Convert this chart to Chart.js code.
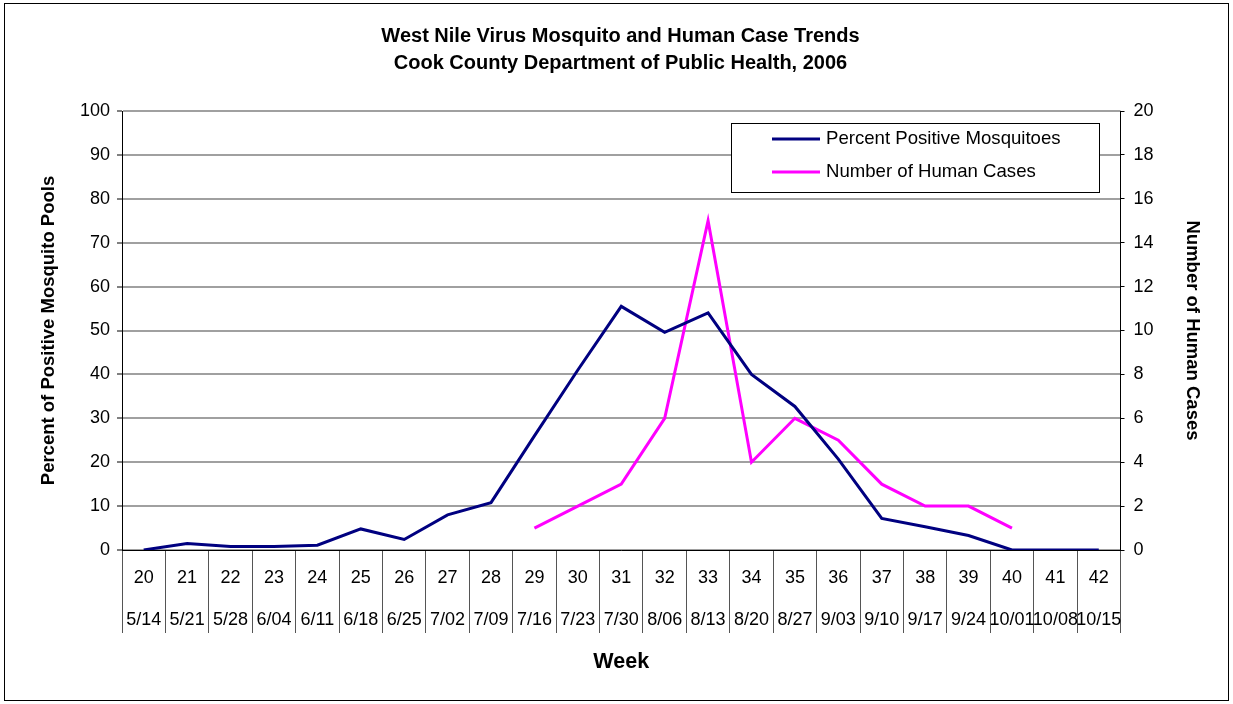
<!DOCTYPE html>
<html>
<head>
<meta charset="utf-8">
<script src="https://cdn.jsdelivr.net/npm/chart.js@4"></script>
<style>
    html, body { margin: 0; padding: 0; background: #fff; }
    canvas { display: block; }
</style>
</head>
<body>
<canvas id="wnvChart" width="1233" height="704"></canvas>
<script>
const weeks = ['20', '21', '22', '23', '24', '25', '26', '27', '28', '29', '30', '31',
    '32', '33', '34', '35', '36', '37', '38', '39', '40', '41', '42'];
const weekDates = ['5/14', '5/21', '5/28', '6/04', '6/11', '6/18', '6/25', '7/02', '7/09',
    '7/16', '7/23', '7/30', '8/06', '8/13', '8/20', '8/27', '9/03', '9/10', '9/17', '9/24',
    '10/01', '10/08', '10/15'];
const percentPositive = [0, 1.5, 0.8, 0.8, 1.1, 4.8, 2.4, 8.0, 10.8, 26, 41, 55.5,
    49.6, 54, 40, 32.7, 20.7, 7.2, 5.3, 3.3, 0, 0, 0];
const humanCases = [null, null, null, null, null, null, null, null, null, 1, 2, 3,
    6, 15, 4, 6, 5, 3, 2, 2, 1, null, null];
const leftTicks = [0, 100, 10];
const rightTicks = [0, 20, 2];

const FONT = '"Liberation Sans", Arial, sans-serif';

// white background + outer frame
const framePlugin = {
    id: 'frame',
    beforeDraw(chart) {
        const c = chart.ctx;
        c.save();
        c.fillStyle = '#fff';
        c.fillRect(0, 0, chart.width, chart.height);
        c.strokeStyle = '#000';
        c.lineWidth = 1;
        c.strokeRect(4.5, 3.5, chart.width - 9, chart.height - 7);
        c.restore();
    }
};

// boxed legend inside the plot, top right
const boxLegend = {
    id: 'boxLegend',
    afterDatasetsDraw(chart) {
        const c = chart.ctx;
        const x = 731, y = 123, w = 368, h = 69;
        c.save();
        c.fillStyle = '#fff';
        c.fillRect(x, y, w, h);
        c.strokeStyle = '#000';
        c.lineWidth = 1;
        c.strokeRect(x + 0.5, y + 0.5, w, h);
        c.font = '18.6px ' + FONT;
        c.textBaseline = 'middle';
        c.fillStyle = '#000';
        chart.data.datasets.forEach((ds, i) => {
            const ly = y + 16 + i * 33;
            c.strokeStyle = ds.borderColor;
            c.lineWidth = 3;
            c.beginPath();
            c.moveTo(772, ly);
            c.lineTo(820, ly);
            c.stroke();
            c.fillText(ds.label, 826, ly);
        });
        c.restore();
    }
};

const ctx = document.getElementById('wnvChart').getContext('2d');
const wnvChart = new Chart(ctx, { // eslint-disable-line
    type: 'line',
    data: {
        labels: weeks.map((w, i) => [w, weekDates[i]]),
        datasets: [{
            label: 'Percent Positive Mosquitoes',
            data: percentPositive,
            yAxisID: 'y',
            borderColor: '#000080',
            borderWidth: 3,
            pointRadius: 0,
            tension: 0
        },
        {
            label: 'Number of Human Cases',
            data: humanCases,
            yAxisID: 'y1',
            borderColor: '#ff00ff',
            borderWidth: 3,
            pointRadius: 0,
            tension: 0,
            spanGaps: false
        }]
    },
    plugins: [framePlugin, boxLegend],
    options: {
        responsive: false,
        animation: false,
        layout: {
            padding: { left: 38, right: 30, top: 0, bottom: 27 }
        },
        plugins: {
            legend: { display: false },
            tooltip: { enabled: false },
            title: {
                display: true,
                text: ['West Nile Virus Mosquito and Human Case Trends',
                    'Cook County Department of Public Health, 2006'],
                color: '#000',
                font: { family: FONT, size: 20, weight: 'bold', lineHeight: '27px' },
                padding: { top: 23, bottom: 34 }
            }
        },
        scales: {
            x: {
                offset: true,
                grid: {
                    offset: true,
                    drawOnChartArea: false,
                    tickLength: 83,
                    color: '#555'
                },
                border: { color: '#000' },
                ticks: {
                    autoSkip: false,
                    maxRotation: 0,
                    minRotation: 0,
                    padding: -76,
                    color: '#000',
                    font: { family: FONT, size: 18, lineHeight: '42px' }
                },
                title: {
                    display: true,
                    text: 'Week',
                    color: '#000',
                    font: { family: FONT, size: 21.5, weight: 'bold' },
                    padding: { top: 0, bottom: 2 }
                },
                afterFit(scale) { scale.height = 127; }
            },
            y: {
                position: 'left',
                min: leftTicks[0],
                max: leftTicks[1],
                ticks: {
                    stepSize: leftTicks[2],
                    padding: 7,
                    color: '#000',
                    font: { family: FONT, size: 18 }
                },
                grid: {
                    color: '#a0a0a0',
                    lineWidth: 2,
                    tickColor: '#000',
                    tickLength: 5,
                    tickWidth: 1
                },
                border: { color: '#000' },
                title: {
                    display: true,
                    text: 'Percent of Positive Mosquito Pools',
                    color: '#000',
                    font: { family: FONT, size: 18.5, weight: 'bold' },
                    padding: 0
                },
                afterFit(scale) { scale.width = 84; }
            },
            y1: {
                position: 'right',
                min: rightTicks[0],
                max: rightTicks[1],
                ticks: {
                    stepSize: rightTicks[2],
                    padding: 9,
                    color: '#000',
                    font: { family: FONT, size: 18 }
                },
                grid: {
                    drawOnChartArea: false,
                    tickColor: '#000',
                    tickLength: 4
                },
                border: { color: '#000' },
                title: {
                    display: true,
                    text: 'Number of Human Cases',
                    color: '#000',
                    font: { family: FONT, size: 18.5, weight: 'bold' },
                    padding: 0
                },
                afterFit(scale) { scale.width = 82.5; }
            }
        }
    }
});
</script>
</body>
</html>
